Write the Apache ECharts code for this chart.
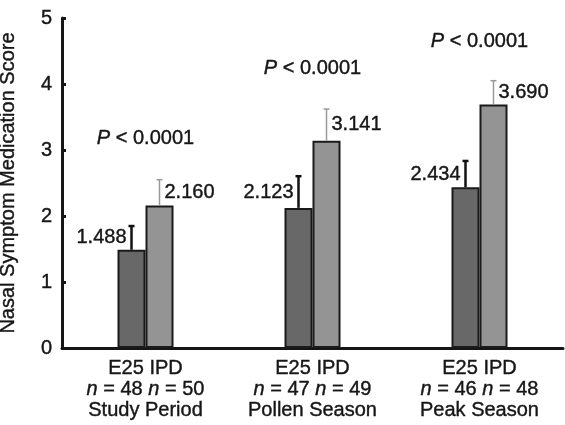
<!DOCTYPE html>
<html>
<head>
<meta charset="utf-8">
<script src="https://cdn.jsdelivr.net/npm/echarts@6/dist/echarts.min.js"></script>
<style>
  html, body { margin: 0; padding: 0; background: #fff; }
  #chart { width: 565px; height: 425px; }
</style>
</head>
<body>
<div id="chart"></div>
<script>
// nasal symptom medication score, E25 vs IPD
var categories = ['Study Period', 'Pollen Season', 'Peak Season'];
var e25Mean = [1.488, 2.123, 2.434];
var ipdMean = [2.160, 3.141, 3.690];
var e25Err = [0.36, 0.48, 0.40];
var ipdErr = [0.39, 0.48, 0.36];
var e25N = [48, 47, 46];
var ipdN = [50, 49, 48];
var pText = ['P < 0.0001', 'P < 0.0001', 'P < 0.0001'];
var pY = [3.18, 4.24, 4.65];
var yTicks = [0, 1, 2, 3, 4, 5];

var font = "'Liberation Sans', Arial, Helvetica, sans-serif";
var ink = '#161616';
var barW = 28;
var chart = echarts.init(document.getElementById('chart'));

function errSeries(means, errs, side, color, lw, labelSide) {
  var data = means.map(function (m, i) { return [i, m, m + errs[i]]; });
  return {
    type: 'custom',
    z: 5,
    data: data,
    encode: { x: 0, y: [1, 2] },
    renderItem: function (params, api) {
      var i = api.value(0);
      var lo = api.coord([i, api.value(1)]);
      var hi = api.coord([i, api.value(2)]);
      var x = lo[0] + side * barW / 2;
      var midY = (lo[1] + hi[1]) / 2;
      var val = api.value(1).toFixed(3);
      return {
        type: 'group',
        children: [
          { type: 'line', shape: { x1: x, y1: lo[1], x2: x, y2: hi[1] },
            style: { stroke: color, lineWidth: lw } },
          { type: 'line', shape: { x1: x - 3, y1: hi[1], x2: x + 3, y2: hi[1] },
            style: { stroke: color, lineWidth: lw } },
          { type: 'text', x: x + labelSide * 5, y: midY,
            style: { text: val, fill: ink, fontSize: 20, fontFamily: font,
              stroke: ink, lineWidth: 0.4,
              align: labelSide < 0 ? 'right' : 'left', verticalAlign: 'middle' } }
        ]
      };
    }
  };
}

var option = {
  backgroundColor: '#fff',
  animation: false,
  grid: { left: 62, right: 2, top: 18, bottom: 77, containLabel: false, outerBoundsMode: 'none' },
  xAxis: {
    type: 'category',
    data: categories,
    boundaryGap: true,
    axisLine: { lineStyle: { color: ink, width: 3 } },
    axisTick: { inside: true, length: 5, lineStyle: { color: ink, width: 3 } },
    axisLabel: {
      interval: 0,
      margin: 10,
      color: ink,
      fontFamily: font,
      fontSize: 20,
      lineHeight: 21,
      formatter: function (v, i) {
        return '{a|E25 IPD}\n{i|n}{a| = ' + e25N[i] + ' }{i|n}{a| = ' + ipdN[i] + '}\n{a|' + v + '}';
      },
      rich: {
        a: { fontSize: 20, fontFamily: font, color: ink, lineHeight: 21, textBorderColor: ink, textBorderWidth: 0.4 },
        i: { fontSize: 20, fontFamily: font, color: ink, fontStyle: 'italic', lineHeight: 21, textBorderColor: ink, textBorderWidth: 0.4 }
      }
    }
  },
  yAxis: {
    type: 'value',
    min: yTicks[0],
    max: yTicks[yTicks.length - 1],
    interval: 1,
    name: 'Nasal Symptom Medication Score',
    nameLocation: 'middle',
    nameGap: 44,
    nameTextStyle: { fontSize: 20, fontFamily: font, color: ink, textBorderColor: ink, textBorderWidth: 0.4 },
    axisLine: { show: true, lineStyle: { color: ink, width: 3 } },
    axisTick: { show: true, inside: true, length: 4, lineStyle: { color: ink, width: 3 } },
    splitLine: { show: false },
    axisLabel: { fontSize: 20, fontFamily: font, color: ink, margin: 10, textBorderColor: ink, textBorderWidth: 0.4 }
  },
  series: [
    {
      name: 'E25', type: 'bar', data: e25Mean, barWidth: barW, barGap: '0%',
      itemStyle: { color: '#686868', borderColor: '#1a1a1a', borderWidth: 2 }
    },
    {
      name: 'IPD', type: 'bar', data: ipdMean, barWidth: barW, barGap: '0%',
      itemStyle: { color: '#949494', borderColor: '#1a1a1a', borderWidth: 2 }
    },
    errSeries(e25Mean, e25Err, -1, '#111', 2.5, -1),
    errSeries(ipdMean, ipdErr, 1, '#999', 1.5, 1),
    {
      type: 'custom',
      z: 6,
      data: pY.map(function (y, i) { return [i, y]; }),
      encode: { x: 0, y: 1 },
      renderItem: function (params, api) {
        var p = api.coord([api.value(0), api.value(1)]);
        var t = pText[params.dataIndex];
        return {
          type: 'text', x: p[0], y: p[1],
          style: {
            text: '{i|' + t.charAt(0) + '}{a|' + t.slice(1) + '}',
            align: 'center', verticalAlign: 'middle',
            rich: {
              a: { fontSize: 20, fontFamily: font, fill: ink, stroke: ink, lineWidth: 0.4 },
              i: { fontSize: 20, fontFamily: font, fill: ink, stroke: ink, lineWidth: 0.4, fontStyle: 'italic' }
            }
          }
        };
      }
    }
  ]
};
chart.setOption(option);
</script>
</body>
</html>
